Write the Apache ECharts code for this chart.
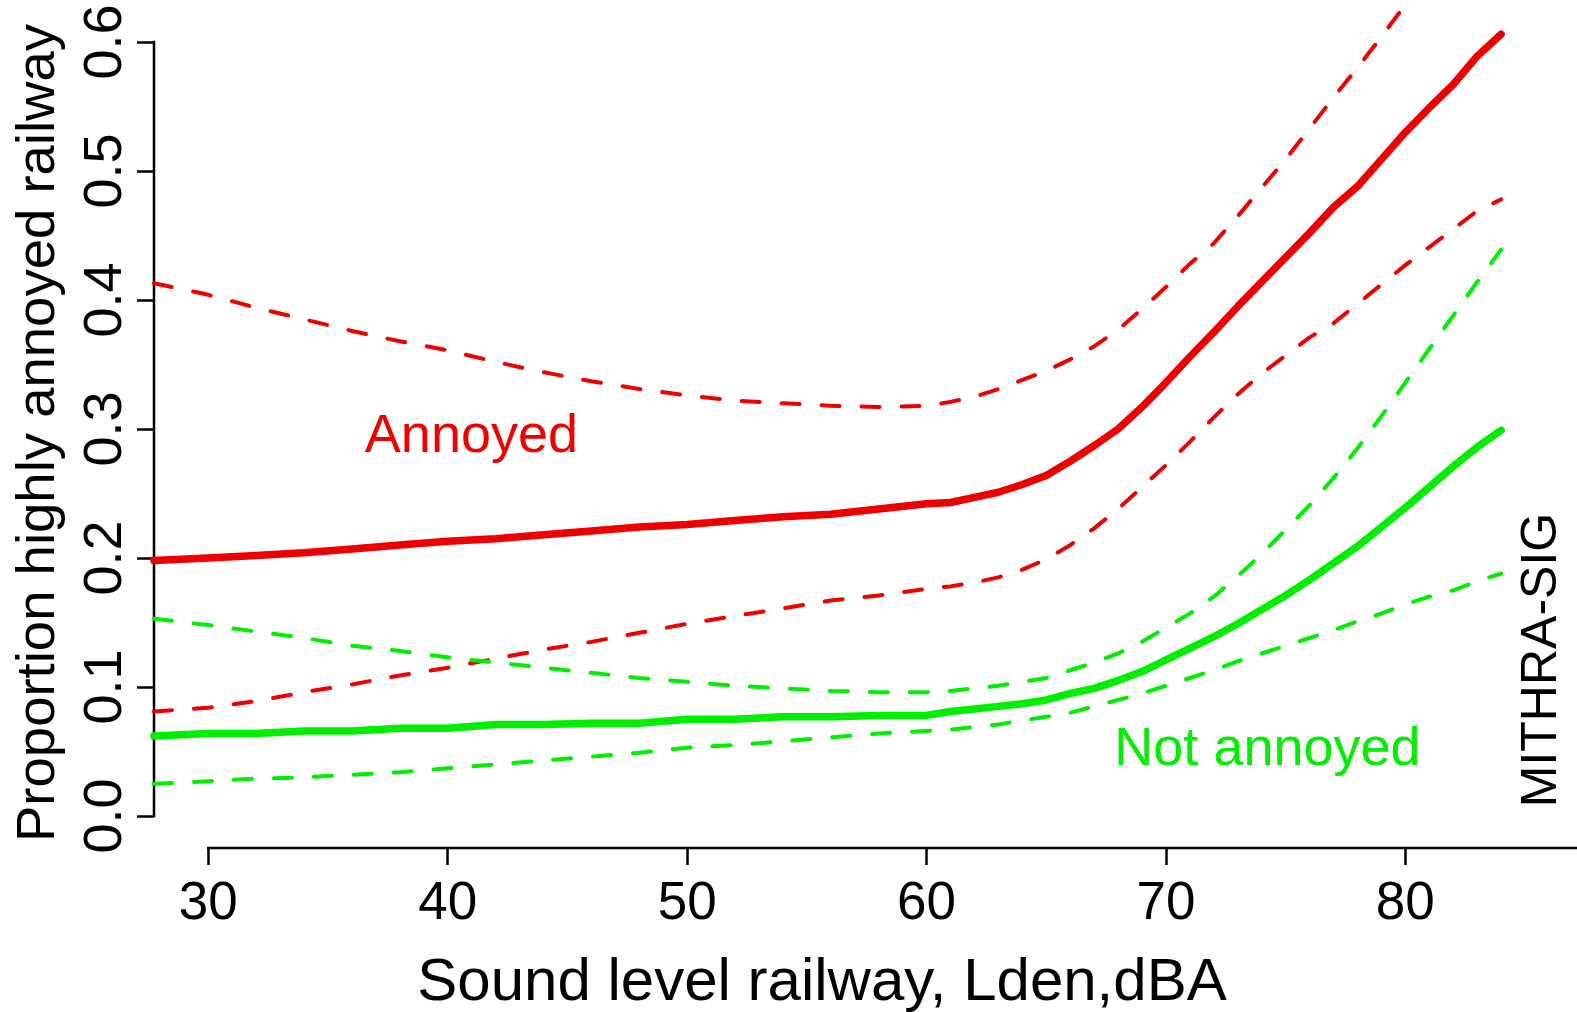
<!DOCTYPE html>
<html>
<head>
<meta charset="utf-8">
<title>Proportion highly annoyed by railway noise</title>
<script src="https://cdn.jsdelivr.net/npm/echarts@6/dist/echarts.min.js"></script>
<style>
  html, body { margin: 0; padding: 0; background: #ffffff; }
  #chart { width: 1577px; height: 1012px; }
</style>
</head>
<body>
<div id="chart"></div>
<script>
// Sound level grid (Lden, dBA) shared by all curves
const levels = [27.73, 30, 32, 34, 36, 38, 40, 42, 44, 46, 48, 50, 52, 54, 56, 58, 60,
  61, 62, 63, 64, 65, 66, 67, 68, 69, 70, 71, 72, 73, 74, 75, 76, 77, 78, 79, 80,
  81, 82, 83, 84];

// Annoyed group: estimate with lower / upper confidence limits
const annoyedFit = [0.198, 0.200, 0.202, 0.204, 0.207, 0.210, 0.213, 0.215, 0.218, 0.221,
  0.224, 0.226, 0.229, 0.232, 0.234, 0.238, 0.242, 0.243, 0.247, 0.251, 0.257, 0.264,
  0.275, 0.287, 0.300, 0.317, 0.336, 0.356, 0.375, 0.395, 0.414, 0.433, 0.452, 0.472,
  0.488, 0.509, 0.530, 0.549, 0.567, 0.589, 0.606];
const annoyedUpper = [0.413, 0.404, 0.394, 0.385, 0.376, 0.368, 0.361, 0.352, 0.344, 0.337,
  0.331, 0.326, 0.322, 0.320, 0.318, 0.317, 0.318, 0.321, 0.325, 0.331, 0.338, 0.345,
  0.354, 0.364, 0.377, 0.393, 0.410, 0.428, 0.444, 0.465, 0.487, 0.509, 0.533, 0.557,
  0.580, 0.604, 0.629];
const annoyedLower = [0.081, 0.084, 0.089, 0.096, 0.102, 0.109, 0.115, 0.122, 0.129, 0.135,
  0.142, 0.149, 0.155, 0.161, 0.167, 0.171, 0.176, 0.178, 0.181, 0.185, 0.191, 0.199,
  0.210, 0.223, 0.238, 0.255, 0.272, 0.290, 0.309, 0.327, 0.343, 0.357, 0.371, 0.382,
  0.397, 0.412, 0.427, 0.441, 0.455, 0.469, 0.478];

// Not annoyed group: estimate with lower / upper confidence limits
const notAnnoyedFit = [0.062, 0.064, 0.064, 0.066, 0.066, 0.068, 0.068, 0.071, 0.071, 0.072,
  0.072, 0.075, 0.075, 0.077, 0.077, 0.078, 0.078, 0.081, 0.083, 0.085, 0.087, 0.090,
  0.095, 0.099, 0.105, 0.112, 0.121, 0.130, 0.139, 0.149, 0.160, 0.171, 0.183, 0.196,
  0.209, 0.224, 0.239, 0.255, 0.271, 0.286, 0.299];
const notAnnoyedUpper = [0.153, 0.148, 0.143, 0.138, 0.132, 0.128, 0.123, 0.119, 0.115, 0.111,
  0.107, 0.104, 0.101, 0.099, 0.097, 0.096, 0.096, 0.097, 0.099, 0.101, 0.104, 0.107,
  0.113, 0.119, 0.126, 0.135, 0.146, 0.157, 0.170, 0.186, 0.203, 0.222, 0.241, 0.262,
  0.285, 0.310, 0.336, 0.362, 0.388, 0.414, 0.439];
const notAnnoyedLower = [0.025, 0.027, 0.029, 0.030, 0.032, 0.034, 0.037, 0.040, 0.043, 0.046,
  0.049, 0.053, 0.055, 0.058, 0.061, 0.064, 0.066, 0.067, 0.069, 0.071, 0.074, 0.077,
  0.080, 0.085, 0.090, 0.095, 0.101, 0.107, 0.113, 0.120, 0.126, 0.132, 0.138, 0.144,
  0.151, 0.157, 0.164, 0.170, 0.175, 0.182, 0.188];

// Axis ticks
const xTicks = [30, 40, 50, 60, 70, 80];
const yTicks = [0, 0.1, 0.2, 0.3, 0.4, 0.5, 0.6];

// Text labels placed in data coordinates
const annoyedLabel = { text: 'Annoyed', at: [40.99, 0.2935] };
const notAnnoyedLabel = { text: 'Not annoyed', at: [74.24, 0.0513] };

const RED = '#ee0000';
const GREEN = '#00ee00';
const FONT = '"Liberation Sans", Arial, Helvetica, sans-serif';

function pairs(values) {
  return values.map((v, i) => [levels[i], v]);
}

function curve(name, values, color, dashed) {
  return {
    name: name,
    type: 'line',
    data: pairs(values),
    showSymbol: false,
    symbol: 'none',
    smooth: false,
    silent: true,
    clip: true,
    lineStyle: dashed
      ? { color: color, width: 4, type: [18, 22], cap: 'round', join: 'round' }
      : { color: color, width: 7.5, type: 'solid', cap: 'round', join: 'round' }
  };
}

const chart = echarts.init(document.getElementById('chart'), null, { renderer: 'canvas' });

const xMin = 27.73, xMax = 87.17;
const yMin = -0.024, yMax = 0.624;

chart.setOption({
  backgroundColor: '#ffffff',
  animation: false,
  textStyle: { fontFamily: FONT },
  grid: { left: 154, right: 0, top: 11, bottom: 165, containLabel: false },
  xAxis: {
    type: 'value',
    min: xMin,
    max: xMax,
    axisLine: { show: false, onZero: false },
    splitLine: { show: false },
    axisTick: {
      show: true,
      customValues: xTicks,
      length: 18,
      lineStyle: { color: '#000', width: 2.5 }
    },
    axisLabel: {
      customValues: xTicks,
      fontSize: 53,
      color: '#000',
      fontFamily: FONT,
      margin: 31
    }
  },
  yAxis: {
    type: 'value',
    min: yMin,
    max: yMax,
    axisLine: { show: false, onZero: false },
    splitLine: { show: false },
    axisTick: {
      show: true,
      customValues: yTicks,
      length: 17,
      lineStyle: { color: '#000', width: 2.5 }
    },
    axisLabel: {
      customValues: yTicks,
      rotate: 90,
      fontSize: 54,
      color: '#000',
      fontFamily: FONT,
      margin: 21,
      formatter: v => v.toFixed(1)
    }
  },
  series: [
    curve('Annoyed upper', annoyedUpper, RED, true),
    curve('Annoyed lower', annoyedLower, RED, true),
    curve('Not annoyed upper', notAnnoyedUpper, GREEN, true),
    curve('Not annoyed lower', notAnnoyedLower, GREEN, true),
    curve('Annoyed', annoyedFit, RED, false),
    curve('Not annoyed', notAnnoyedFit, GREEN, false)
  ]
});

// Axis lines (x from the first tick to the right edge, y from 0 to 0.6),
// titles and group labels
const toPx = p => chart.convertToPixel({ gridIndex: 0 }, p);
const xStart = toPx([xTicks[0], yMin]);
const xEnd = toPx([xMax, yMin]);
const yBottom = toPx([xMin, yTicks[0]]);
const yTop = toPx([xMin, yTicks[yTicks.length - 1]]);
const aPos = toPx(annoyedLabel.at);
const nPos = toPx(notAnnoyedLabel.at);

function label(text, x, y, size, color, rotation) {
  return {
    type: 'text',
    x: x,
    y: y,
    rotation: rotation || 0,
    silent: true,
    style: {
      text: text,
      fontSize: size,
      fontFamily: FONT,
      fill: color,
      align: 'center',
      verticalAlign: 'middle'
    }
  };
}

chart.setOption({
  graphic: [
    {
      type: 'line', silent: true,
      shape: { x1: xStart[0] - 1.25, y1: xStart[1] + 1, x2: xEnd[0], y2: xEnd[1] + 1 },
      style: { stroke: '#000', lineWidth: 2.5 }
    },
    {
      type: 'line', silent: true,
      shape: { x1: yBottom[0], y1: yBottom[1] + 1.25, x2: yTop[0], y2: yTop[1] - 1.25 },
      style: { stroke: '#000', lineWidth: 2.5 }
    },
    label('Sound level railway, Lden,dBA', 822, 983, 60, '#000', 0),
    label('Proportion highly annoyed railway', 39, 433, 54.5, '#000', Math.PI / 2),
    label('MITHRA-SIG', 1542, 660, 50, '#000', Math.PI / 2),
    label(annoyedLabel.text, aPos[0], aPos[1], 54, RED, 0),
    label(notAnnoyedLabel.text, nPos[0], nPos[1], 54, GREEN, 0)
  ]
});
</script>
</body>
</html>
